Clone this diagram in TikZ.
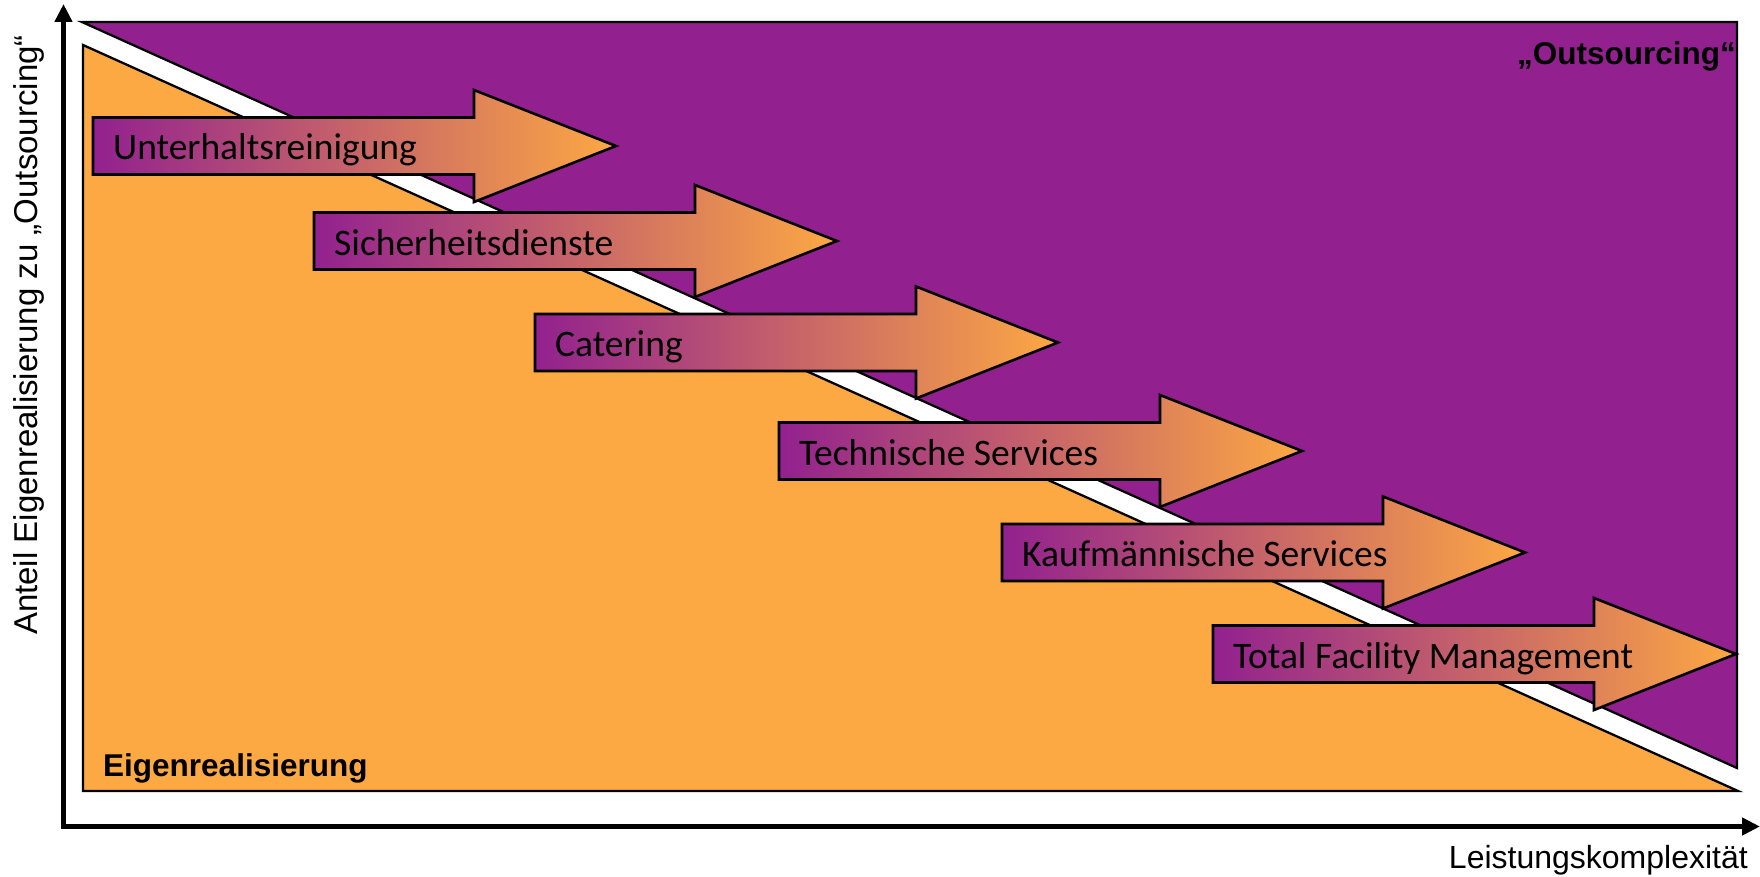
\documentclass[tikz,border=0pt]{standalone}
\usepackage{fontspec}
\setmainfont{Carlito}
\newfontfamily\arialfont{Liberation Sans}
\usetikzlibrary{arrows.meta}

\definecolor{fmpurple}{RGB}{146,33,143}
\definecolor{fmorange}{RGB}{252,168,67}

\tikzset{
  zone/.style={draw=black, line width=2.3pt},
  axisline/.style={line width=4.5pt, line join=miter,
    {Triangle[length=18pt,width=17pt]}-{Triangle[length=18pt,width=17pt]}},
  servicearrow/.style={draw=black, line width=2.6pt, left color=fmpurple, right color=fmorange},
  servicelabel/.style={anchor=base west, inner sep=0pt, text=black,
    font=\fontsize{37.5}{42}\selectfont},
  axislabel/.style={inner sep=0pt, font=\arialfont\fontsize{32}{36}\selectfont},
  zonelabel/.style={inner sep=0pt, font=\arialfont\bfseries\fontsize{31.5}{36}\selectfont},
}

% block arrow: #1 name, #2 left x, #3 centre y, #4 label
\newcommand\fmservice[4]{%
  \path[servicearrow] (#2,#3-28.5) -- ++(381,0) -- ++(0,-27.5) -- (#2+523,#3)
    -- (#2+381,#3+56) -- ++(0,-27.5) -- (#2,#3+28.5) -- cycle;
  \node[servicelabel] (#1) at (#2+20,#3+14) {#4};
}

\begin{document}
\begin{tikzpicture}[x=1pt, y=-1pt]
  \useasboundingbox (0,0) rectangle (1760,877);

  % outsourcing share (upper) and in-house share (lower)
  \draw[zone, fill=fmpurple] (82,22) -- (1737,22) -- (1737,768) -- cycle;
  \draw[zone, fill=fmorange] (83,45) -- (83,791) -- (1738,791) -- cycle;

  % service arrows
  \fmservice{s1}{93}{146}{Unterhaltsreinigung}
  \fmservice{s2}{314}{241}{Sicherheitsdienste}
  \fmservice{s3}{535}{342.5}{Catering}
  \fmservice{s4}{779}{451}{Technische Services}
  \fmservice{s5}{1002}{552.5}{Kaufmännische Services}
  \fmservice{s6}{1213}{654}{Total Facility Management}

  % zone labels
  \node[zonelabel, anchor=base east] (outlabel) at (1736,65) {„Outsourcing“};
  \node[zonelabel, anchor=base west] (ownlabel) at (103,776) {Eigenrealisierung};

  % axes
  \coordinate (origin) at (63.5,826.5);
  \coordinate (ytip) at (63.5,4);
  \coordinate (xtip) at (1760,826.5);
  \draw[axisline] (ytip) -- (origin) -- (xtip);

  \node[axislabel, rotate=90, anchor=base, font=\arialfont\fontsize{33}{36}\selectfont]
    (ylabel) at (37,335) {Anteil Eigenrealisierung zu „Outsourcing“};
  \node[axislabel, anchor=base east] (xlabel) at (1748,868) {Leistungskomplexität};
\end{tikzpicture}
\end{document}
